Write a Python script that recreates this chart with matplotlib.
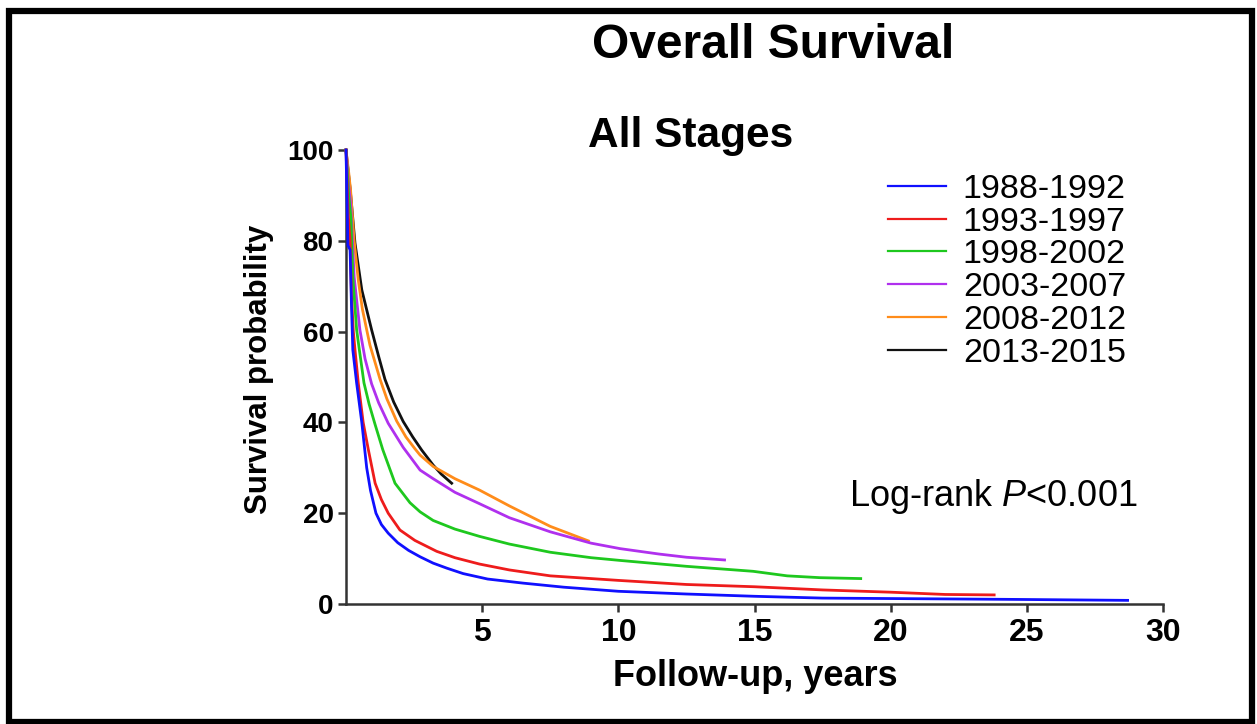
import matplotlib
matplotlib.use("Agg")
import matplotlib.pyplot as plt
from matplotlib.patches import Rectangle

plt.rcParams['font.family'] = ['Liberation Sans', 'DejaVu Sans']
plt.rcParams['mathtext.fontset'] = 'custom'
plt.rcParams['mathtext.rm'] = 'Liberation Sans'
plt.rcParams['mathtext.it'] = 'Liberation Sans:italic'

# values (years, survival %)
labels = ["1988-1992", "1993-1997", "1998-2002", "2003-2007", "2008-2012", "2013-2015"]
colors = ["#1010ff", "#ee1c1c", "#1ec81e", "#b030ee", "#ff8c1a", "#111111"]

t_8892 = [0, 0.07, 0.15, 0.2, 0.25, 0.39, 0.58, 0.76, 0.9, 1.1, 1.3, 1.55, 1.9, 2.3, 2.72,
          3.2, 3.7, 4.3, 5.2, 6.5, 8, 10, 12.5, 15, 17.5, 20, 22.5, 24.8, 28.7]
s_8892 = [100, 79, 78, 66, 56, 48.7, 40, 30, 25, 20, 17.5, 15.6, 13.5, 11.8, 10.4,
          9.0, 7.9, 6.7, 5.5, 4.6, 3.7, 2.8, 2.2, 1.7, 1.3, 1.2, 1.1, 1.0, 0.8]

t_9397 = [0, 0.08, 0.15, 0.2, 0.27, 0.33, 0.45, 0.63, 0.82, 1.07, 1.3, 1.55, 1.98, 2.53,
          3.33, 4.0, 4.9, 6, 7.5, 10, 12.5, 15, 17.5, 20, 22, 23.8]
s_9397 = [100, 86, 80, 68, 60, 56, 48.7, 40, 34, 26.6, 23, 20, 16.3, 14, 11.6, 10.2, 8.8,
          7.5, 6.2, 5.2, 4.3, 3.8, 3.1, 2.6, 2.1, 2.0]

t_9802 = [0, 0.1, 0.18, 0.25, 0.39, 0.49, 0.66, 0.85, 1.07, 1.35, 1.8, 2.35, 2.72, 3.2, 4.0,
          4.9, 6, 7.5, 9, 10.06, 12.5, 14.95, 16.2, 17.4, 18.9]
s_9802 = [100, 90, 85, 72, 60.4, 56, 48.7, 44, 39.5, 34, 26.6, 22.3, 20.3, 18.4, 16.5,
          14.9, 13.2, 11.4, 10.2, 9.6, 8.3, 7.2, 6.2, 5.8, 5.6]

t_0307 = [0, 0.1, 0.17, 0.3, 0.51, 0.7, 0.94, 1.2, 1.55, 2.1, 2.72, 3.2, 4.0, 4.9, 6, 7.5,
          9, 10.06, 11.5, 12.5, 13.9]
s_0307 = [100, 92, 88, 72, 60.4, 54, 48.5, 44.3, 39.8, 34.5, 29.5, 27.6, 24.6, 22.1, 19.0,
          15.9, 13.4, 12.2, 11.0, 10.3, 9.7]

t_0812 = [0, 0.1, 0.17, 0.3, 0.45, 0.6, 0.76, 0.88, 1.25, 1.5, 1.86, 2.2, 2.53, 2.72, 3.2,
          4.0, 4.9, 6, 7.5, 8.9]
s_0812 = [100, 95, 91, 80, 71.4, 65, 60.4, 57, 49.5, 45.2, 40.3, 36.8, 34.2, 32.8, 30.3,
          27.6, 25.1, 21.6, 17.1, 13.9]

t_1315 = [0, 0.05, 0.15, 0.33, 0.58, 0.94, 1.2, 1.43, 1.75, 2.1, 2.45, 2.78, 3.2, 3.5, 3.88]
s_1315 = [100, 97, 91.6, 79.5, 69.2, 60.4, 54.5, 49.5, 44.5, 40.2, 36.8, 33.9, 30.6, 28.6, 26.6]

times = [t_8892, t_9397, t_9802, t_0307, t_0812, t_1315]
survs = [s_8892, s_9397, s_9802, s_0307, s_0812, s_1315]

W, H = 1257, 724
fig = plt.figure(figsize=(W / 100, H / 100), dpi=100)
ax = fig.add_axes([346 / W, 120 / H, 817 / W, 454 / H])

for i in range(len(labels)):
    ax.plot(times[i], survs[i], color=colors[i], lw=2.0, label=labels[i],
            zorder=10 - i, clip_on=False)

ax.set_xlim(0, 30)
ax.set_ylim(0, 100)
ax.set_xticks([5, 10, 15, 20, 25, 30])
ax.set_yticks([0, 20, 40, 60, 80, 100])
for side in ["top", "right"]:
    ax.spines[side].set_visible(False)
for side in ["left", "bottom"]:
    ax.spines[side].set_color("#333333")
    ax.spines[side].set_linewidth(1.8)
ax.tick_params(axis="both", length=6, width=1.8, color="#333333")
ax.tick_params(axis="x", labelsize=23, pad=4)
ax.tick_params(axis="y", labelsize=20, pad=3)
for lab in ax.get_xticklabels() + ax.get_yticklabels():
    lab.set_fontweight("bold")

fig.text(773 / W, 1 - 45 / H, "Overall Survival", fontsize=34.5, fontweight="bold",
         ha="center", va="center")
fig.text(691 / W, 1 - 136 / H, "All Stages", fontsize=30.5, fontweight="bold",
         ha="center", va="center")
fig.text(755 / W, 1 - 676 / H, "Follow-up, years", fontsize=26, fontweight="bold",
         ha="center", va="center")
fig.text(259 / W, 1 - 369 / H, "Survival probability", fontsize=22.5, fontweight="bold",
         ha="center", va="center", rotation=90)
fig.text(993 / W, 1 - 496 / H, r"Log-rank $P$<0.001", fontsize=26,
         ha="center", va="center")

ax.legend(loc="upper left", bbox_to_anchor=(888 / W, 1 - 174 / H),
          bbox_transform=fig.transFigure, frameon=False, fontsize=24.5,
          handlelength=1.7, handletextpad=0.5, labelspacing=0.05,
          borderpad=0, borderaxespad=0)
for line in ax.get_legend().get_lines():
    line.set_linewidth(1.6)

fig.add_artist(Rectangle((9 / W, 2 / H), 1243 / W, 711 / H, transform=fig.transFigure,
                         fill=False, edgecolor="black", linewidth=4.5))

fig.savefig("out.png", dpi=100)
